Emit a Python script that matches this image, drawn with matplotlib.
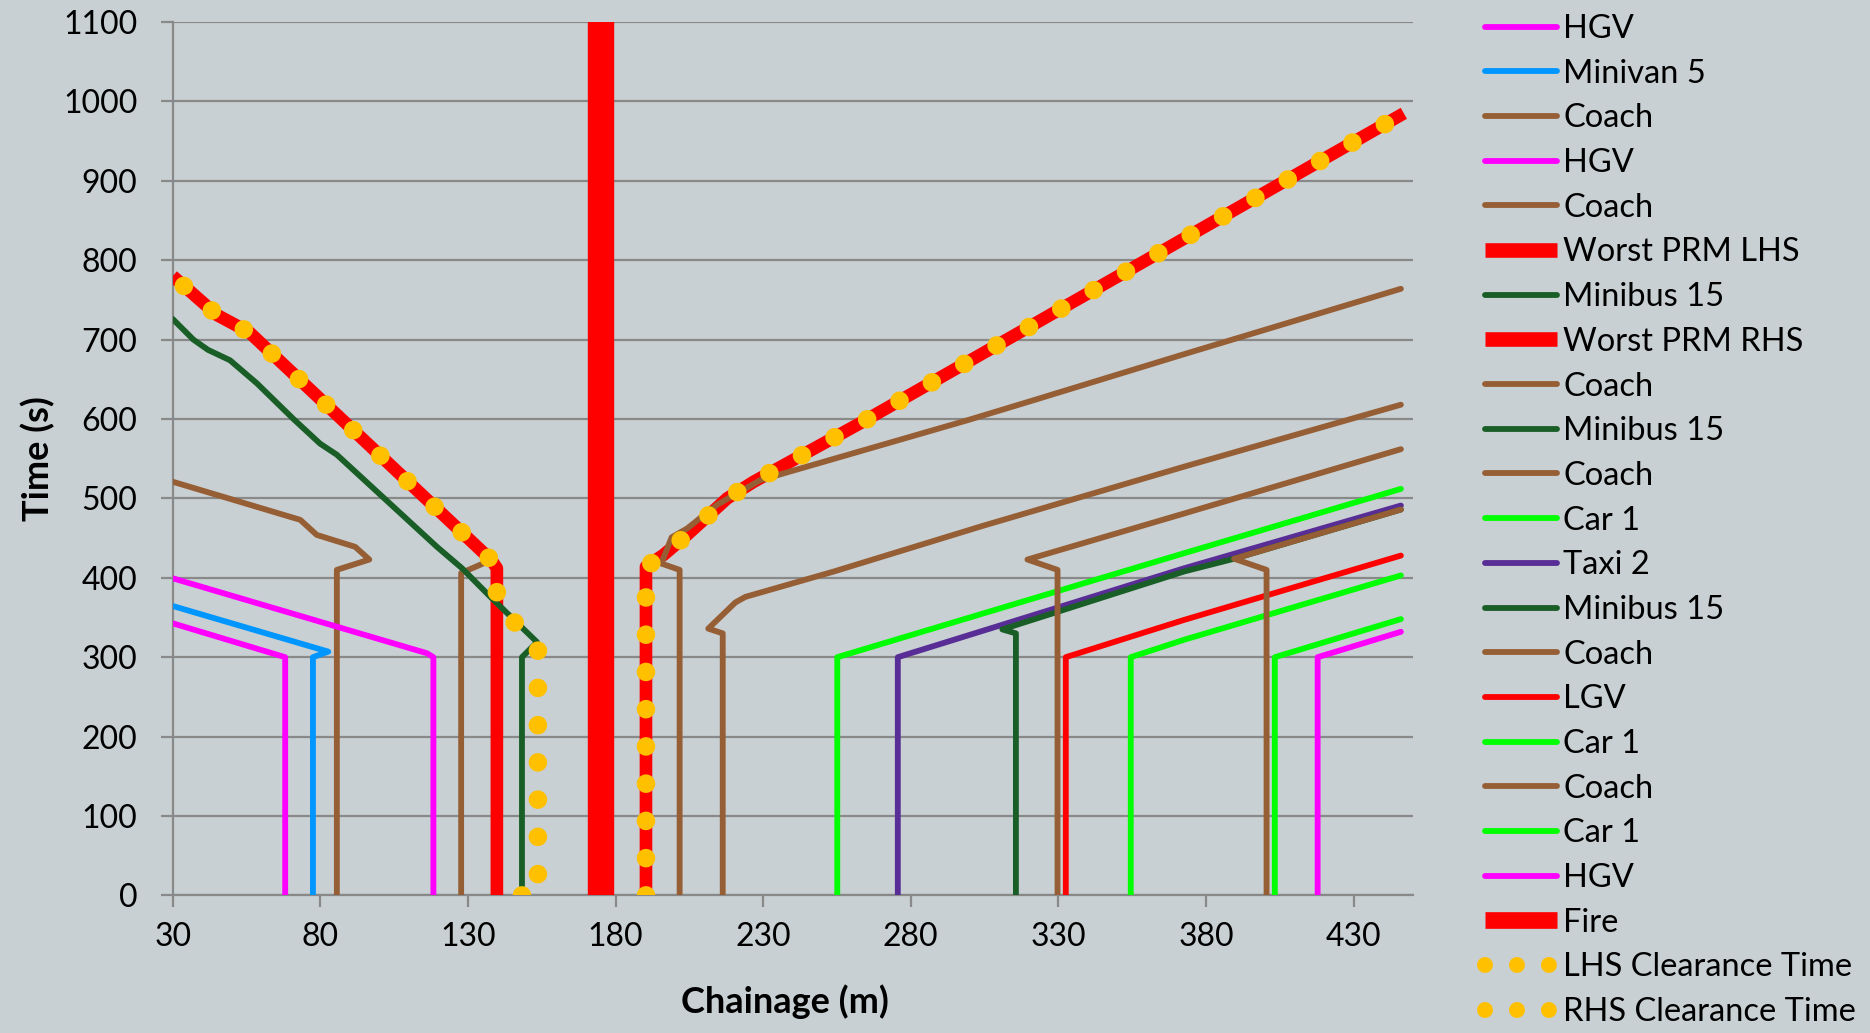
import matplotlib
matplotlib.use("Agg")
import matplotlib.pyplot as plt
from matplotlib.lines import Line2D

plt.rcParams['font.family'] = ['Lato', 'DejaVu Sans']

# ---------------- data (chainage m, time s) ----------------
hgv1_x = [68.1, 68.1, 30.0]
hgv1_y = [0, 300, 342.7]
minivan_x = [77.5, 77.5, 82.7, 30.0]
minivan_y = [0, 300, 307, 364.5]
coach1_x = [85.6, 85.6, 96.6, 91.8, 78.8, 73.2, 30.0]
coach1_y = [0, 410, 423, 439, 454, 473, 521]
hgv2_x = [118.3, 118.3, 116.1, 30.0]
hgv2_y = [0, 300, 305, 399.4]
coach2_x = [127.7, 127.7, 137.0]
coach2_y = [0, 406, 421]
prm_lhs_x = [139.8, 139.8, 138.0, 56.0, 45.0, 30.0]
prm_lhs_y = [0, 412, 422, 709, 731, 780]
minibus1_x = [148.3, 148.3, 153.4, 137.6, 128.0, 119.5, 85.6, 79.9, 70.9, 58.5, 49.4, 42.0, 37.0, 30.0]
minibus1_y = [0, 300, 319, 376, 412, 439, 555, 569, 600, 645, 674, 687, 700, 726]
prm_rhs_x = [190.3, 190.3, 196.3, 204.2, 217.8, 226.8, 263.0, 447.0]
prm_rhs_y = [0, 414, 429, 454, 500, 521, 595, 985]
coachA_x = [201.7, 201.7, 195.5, 199.0, 204.2, 214.4, 229.0, 299.7, 321.9, 372.0, 446.0]
coachA_y = [0, 410, 418, 451, 462, 492, 523, 599, 624, 681, 764]
minibus2_x = []
minibus2_y = []
coachB_x = [216.3, 216.3, 211.4, 220.6, 224.0, 254.0, 304.0, 372.6, 446.0]
coachB_y = [0, 330, 336, 369, 376, 408, 465, 540, 618]
car1_x = [255.1, 255.1, 372.6, 446.0]
car1_y = [0, 300, 431, 512]
taxi_x = [275.6, 275.6, 372.6, 446.0]
taxi_y = [0, 300, 412, 491]
minibus3_x = [315.6, 315.6, 311.0, 372.6, 389.5, 446.0]
minibus3_y = [0, 330, 335, 408, 424, 486]
coachC_x = [329.7, 329.7, 319.5, 372.6, 446.0]
coachC_y = [0, 410, 423, 481, 562]
lgv_x = [332.5, 332.5, 372.6, 446.0]
lgv_y = [0, 300, 347, 428]
car2_x = [354.5, 354.5, 372.6, 446.0]
car2_y = [0, 300, 322, 403]
coachD_x = [400.5, 400.5, 389.5, 446.0]
coachD_y = [0, 410, 424, 486]
car3_x = [403.3, 403.3, 446.0]
car3_y = [0, 300, 348]
hgv3_x = [417.8, 417.8, 446.0]
hgv3_y = [0, 300, 332]
fire_x = [175.0, 175.0]
fire_y = [0, 1100]
lhs_clear_x = [148.3, 153.7, 153.7, 139.8, 139.8, 138.0, 56.0, 45.0, 30.0]
lhs_clear_y = [0, 0, 312, 368, 412, 422, 709, 731, 780]
rhs_clear_x = prm_rhs_x
rhs_clear_y = prm_rhs_y

x_ticks = list(range(30, 431, 50))
y_ticks = list(range(0, 1101, 100))

# ---------------- styles ----------------
C_HGV = '#FF00FF'
C_MINIVAN = '#0096FF'
C_COACH = '#965E34'
C_MINIBUS = '#1A5E27'
C_TAXI = '#582D96'
C_CAR = '#00FF00'
C_RED = '#FF0000'
C_GOLD = '#FFC000'
BG = '#C8D0D3'
GRID = '#898989'

THIN = 4.2
THICK = 9.1
FIRE_W = 19.0
DOT_W = 13.4
DOTS = (0, (0.001, 2))

series = [
    ('HGV', hgv1_x, hgv1_y, C_HGV, 'thin'),
    ('Minivan 5', minivan_x, minivan_y, C_MINIVAN, 'thin'),
    ('Coach', coach1_x, coach1_y, C_COACH, 'thin'),
    ('HGV', hgv2_x, hgv2_y, C_HGV, 'thin'),
    ('Coach', coach2_x, coach2_y, C_COACH, 'thin'),
    ('Worst PRM LHS', prm_lhs_x, prm_lhs_y, C_RED, 'thick'),
    ('Minibus 15', minibus1_x, minibus1_y, C_MINIBUS, 'thin'),
    ('Worst PRM RHS', prm_rhs_x, prm_rhs_y, C_RED, 'thick'),
    ('Coach', coachA_x, coachA_y, C_COACH, 'thin'),
    ('Minibus 15', minibus2_x, minibus2_y, C_MINIBUS, 'thin'),
    ('Coach', coachB_x, coachB_y, C_COACH, 'thin'),
    ('Car 1', car1_x, car1_y, C_CAR, 'thin'),
    ('Taxi 2', taxi_x, taxi_y, C_TAXI, 'thin'),
    ('Minibus 15', minibus3_x, minibus3_y, C_MINIBUS, 'thin'),
    ('Coach', coachC_x, coachC_y, C_COACH, 'thin'),
    ('LGV', lgv_x, lgv_y, C_RED, 'thin'),
    ('Car 1', car2_x, car2_y, C_CAR, 'thin'),
    ('Coach', coachD_x, coachD_y, C_COACH, 'thin'),
    ('Car 1', car3_x, car3_y, C_CAR, 'thin'),
    ('HGV', hgv3_x, hgv3_y, C_HGV, 'thin'),
    ('Fire', fire_x, fire_y, C_RED, 'fire'),
    ('LHS Clearance Time', lhs_clear_x, lhs_clear_y, C_GOLD, 'dots'),
    ('RHS Clearance Time', rhs_clear_x, rhs_clear_y, C_GOLD, 'dots'),
]

fig = plt.figure(figsize=(18.7, 10.33), dpi=100)
fig.patch.set_facecolor(BG)
ax = fig.add_axes([172.7 / 1870, 1 - 895.4 / 1033, (1412.7 - 172.7) / 1870, (895.4 - 22) / 1033])
ax.set_facecolor(BG)

handles = []
for i, (lab, xs, ys, col, kind) in enumerate(series):
    z = 2 + i * 0.01
    if kind == 'thin':
        ax.plot(xs, ys, color=col, lw=THIN, solid_capstyle='round', solid_joinstyle='round', zorder=z)
        handles.append(Line2D([], [], color=col, lw=THIN, solid_capstyle='round'))
    elif kind == 'thick':
        ax.plot(xs, ys, color=col, lw=THICK, solid_capstyle='butt', solid_joinstyle='round', zorder=z)
        handles.append(Line2D([], [], color=col, lw=10.5, solid_capstyle='butt'))
    elif kind == 'fire':
        ax.plot(xs, ys, color=col, lw=FIRE_W, solid_capstyle='butt', zorder=z)
        handles.append(Line2D([], [], color=col, lw=12.0, solid_capstyle='butt'))
    else:
        ax.plot(xs, ys, color=col, lw=DOT_W, linestyle=DOTS, dash_capstyle='round', zorder=z)
        handles.append(Line2D([], [], color=col, lw=11.5, linestyle=DOTS, dash_capstyle='round'))

ax.set_xlim(30, 450)
ax.set_ylim(0, 1100)
ax.set_xticks(x_ticks)
ax.set_yticks(y_ticks)
ax.grid(axis='y', color=GRID, lw=1.6, zorder=1)
ax.set_axisbelow(True)
for s in ('top', 'right'):
    ax.spines[s].set_visible(False)
for s in ('left', 'bottom'):
    ax.spines[s].set_color(GRID)
    ax.spines[s].set_linewidth(1.6)
    ax.spines[s].set_zorder(1.5)
ax.tick_params(axis='both', direction='out', length=8.4, width=1.6, color=GRID, labelsize=23, labelcolor='black')
ax.tick_params(axis='x', pad=11)
ax.tick_params(axis='y', pad=17)

fig.text(785 / 1870, 1 - 1013.3 / 1033, 'Chainage (m)', ha='center', va='baseline', fontsize=26, fontweight='bold')
fig.text(49 / 1870, 1 - 459 / 1033, 'Time (s)', ha='center', va='baseline', rotation=90, rotation_mode='anchor',
         fontsize=26, fontweight='bold')

labels = [s[0] for s in series]
fig.legend(handles, labels, loc='upper left', bbox_to_anchor=(1485 / 1870, 1 - 14 / 1033),
           frameon=False, fontsize=23.5, handlelength=2.2, handletextpad=0.2,
           labelspacing=0.45, borderpad=0, borderaxespad=0)

fig.savefig('out.png', dpi=100, facecolor=BG)
